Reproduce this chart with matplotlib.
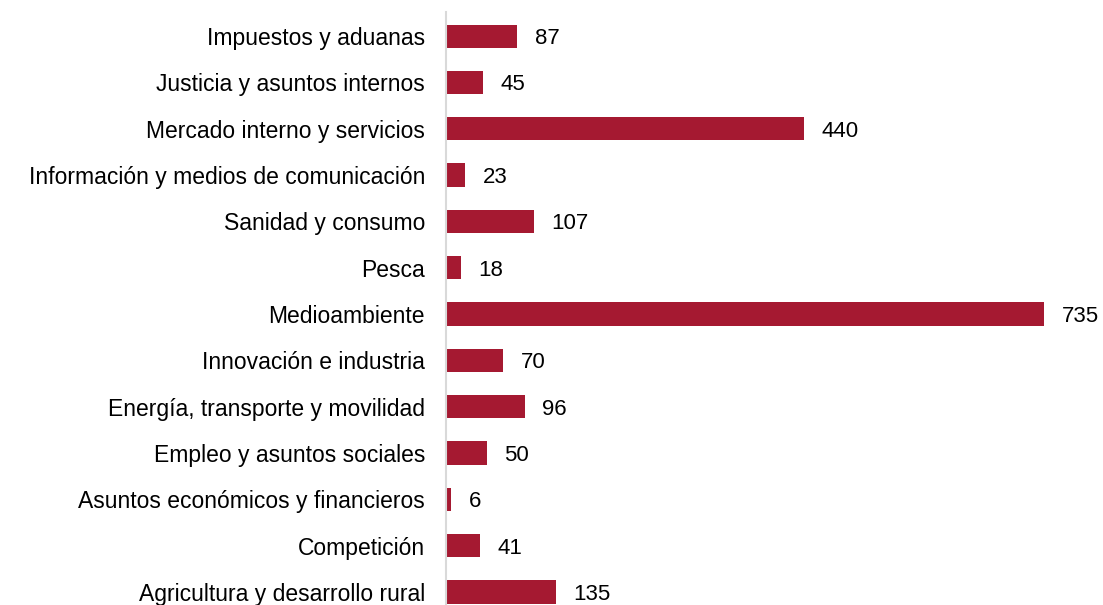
import matplotlib
matplotlib.use("Agg")
import matplotlib.pyplot as plt

categories = [
    "Impuestos y aduanas",
    "Justicia y asuntos internos",
    "Mercado interno y servicios",
    "Información y medios de comunicación",
    "Sanidad y consumo",
    "Pesca",
    "Medioambiente",
    "Innovación e industria",
    "Energía, transporte y movilidad",
    "Empleo y asuntos sociales",
    "Asuntos económicos y financieros",
    "Competición",
    "Agricultura y desarrollo rural",
]
values = [87, 45, 440, 23, 107, 18, 735, 70, 96, 50, 6, 41, 135]

plt.rcParams['font.family'] = ['Liberation Sans', 'DejaVu Sans']

W, H = 1103, 605
fig = plt.figure(figsize=(W / 100, H / 100), dpi=100)
left_px, right_px, top_px, bot_px = 446, 1100, 12, 605
ax = fig.add_axes([left_px / W, 1 - bot_px / H, (right_px - left_px) / W, (bot_px - top_px) / H])

for s in ["top", "right", "bottom"]:
    ax.spines[s].set_visible(False)
ax.spines["left"].set_color("#D9D9D9")
ax.spines["left"].set_linewidth(1.5)
ax.spines["left"].set_position(("data", 0))

pos = list(range(len(categories)))
ax.barh(pos, values, height=0.5, color="#A51931", edgecolor="none")
for p, v in zip(pos, values):
    ax.annotate(str(v), (v, p), xytext=(12.5, 0), textcoords="offset points",
                va="center_baseline", ha="left", fontsize=16, color="black")

ax.set_yticks(pos)
ax.set_yticklabels(categories)
ax.tick_params(axis="y", length=0, pad=15.5, labelsize=16.5)
ax.set_ylim(12.28, -0.52)
ax.set_xlim(-0.6, (right_px - left_px) / 0.8136 - 0.6)
ax.set_xticks([])

fig.savefig("out.png", dpi=100)
